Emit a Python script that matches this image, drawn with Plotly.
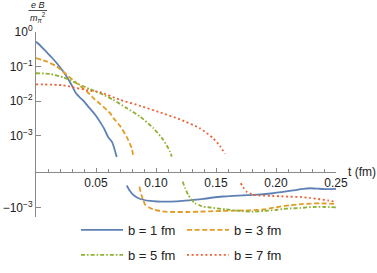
import numpy as np
import plotly.graph_objects as go

# ---------------- data (eB / m_pi^2 vs t in fm) ----------------
labels = ["b = 1 fm", "b = 3 fm", "b = 5 fm", "b = 7 fm"]

b1_t_pos = [0, 0.00333, 0.00667, 0.01, 0.01333, 0.01667, 0.02, 0.02333, 0.02667, 0.03, 0.03333,
            0.03667, 0.04, 0.04333, 0.04667, 0.05, 0.05333, 0.05667, 0.06, 0.06333, 0.0654, 0.06725]
b1_pos = [0.523, 0.414, 0.313, 0.238, 0.180, 0.133, 0.0955, 0.067, 0.0443, 0.0278, 0.01683,
          0.01262, 0.00986, 0.00707, 0.00523, 0.00375, 0.00251, 0.00163, 0.000923, 0.000661, 0.000414, 0.000243]
b1_t_neg = [0.0756, 0.0783, 0.0811, 0.085, 0.0894, 0.095, 0.1008, 0.1075, 0.1173, 0.1242, 0.1311,
            0.1392, 0.1475, 0.1558, 0.1642, 0.1725, 0.1808, 0.1892, 0.1975, 0.2058, 0.2142, 0.2225,
            0.2283, 0.235, 0.2417, 0.25]
b1_neg = [-2.29e-4, -3.30e-4, -4.31e-4, -5.27e-4, -5.94e-4, -6.44e-4, -6.67e-4, -6.76e-4, -6.58e-4,
          -6.32e-4, -6.03e-4, -5.64e-4, -5.11e-4, -4.78e-4, -4.61e-4, -4.41e-4, -4.31e-4, -4.12e-4,
          -3.85e-4, -3.49e-4, -3.20e-4, -2.89e-4, -2.76e-4, -2.84e-4, -2.93e-4, -2.89e-4]

b3_t_pos = [0, 0.0089, 0.0173, 0.0256, 0.0339, 0.0423, 0.0492, 0.0533, 0.0589, 0.0617, 0.0644,
            0.07, 0.0756, 0.0798, 0.0811]
b3_pos = [0.176, 0.1406, 0.1007, 0.0578, 0.0332, 0.019, 0.01105, 0.00835, 0.0056, 0.00449, 0.00328,
          0.00192, 0.000923, 0.000434, 0.000248]
b3_t_neg = [0.0861, 0.0881, 0.0894, 0.0908, 0.0942, 0.0978, 0.1033, 0.1089, 0.1158, 0.1256, 0.1367,
            0.145, 0.155, 0.1673, 0.1783, 0.1894, 0.1967, 0.2033, 0.2117, 0.2228, 0.2367, 0.25]
b3_neg = [-2.48e-4, -4.61e-4, -6.03e-4, -8.15e-4, -9.95e-4, -1.138e-3, -1.256e-3, -1.324e-3, -1.343e-3,
          -1.343e-3, -1.315e-3, -1.282e-3, -1.256e-3, -1.23e-3, -1.2e-3, -1.138e-3, -1.028e-3, -9.42e-4,
          -8.59e-4, -7.87e-4, -7.52e-4, -7.87e-4]

b5_t_pos = [0, 0.01167, 0.0228, 0.0339, 0.045, 0.0533, 0.0644, 0.0756, 0.0867, 0.0978, 0.1061,
            0.1117, 0.1131]
b5_pos = [0.064, 0.0611, 0.049, 0.0328, 0.022, 0.01706, 0.0109, 0.00627, 0.00358, 0.00165, 0.000755,
          0.000346, 0.000248]
b5_t_neg = [0.1222, 0.1242, 0.1269, 0.1292, 0.1325, 0.1367, 0.1394, 0.145, 0.1506, 0.1575, 0.1673,
            0.1742, 0.1811, 0.1894, 0.1992, 0.2061, 0.2117, 0.22, 0.2311, 0.2408, 0.25]
b5_neg = [-1.78e-4, -2.70e-4, -4.31e-4, -5.64e-4, -7.52e-4, -8.71e-4, -9.42e-4, -9.95e-4, -1.05e-3,
          -1.122e-3, -1.216e-3, -1.282e-3, -1.315e-3, -1.256e-3, -1.175e-3, -1.099e-3, -1.064e-3,
          -1.028e-3, -9.62e-4, -9.62e-4, -9.82e-4]

b7_t_pos = [0, 0.0225, 0.045, 0.0533, 0.07, 0.0867, 0.1033, 0.12, 0.1367, 0.1478, 0.1533, 0.1575]
b7_pos = [0.0307, 0.0287, 0.0199, 0.01824, 0.0109, 0.00731, 0.00473, 0.00297, 0.00163, 0.000836,
          0.000506, 0.000297]
b7_t_neg = [0.1706, 0.1733, 0.1758, 0.1783, 0.1811, 0.1867, 0.195, 0.2033, 0.2117, 0.22, 0.2283,
            0.2367, 0.2433, 0.25]
b7_neg = [-1.98e-4, -2.80e-4, -3.53e-4, -3.91e-4, -4.31e-4, -4.47e-4, -4.61e-4, -4.71e-4, -4.84e-4,
          -4.93e-4, -5.27e-4, -5.75e-4, -6.24e-4, -6.76e-4]

x_tick_vals = [0.05, 0.10, 0.15, 0.20, 0.25]
x_tick_text = ["0.05", "0.10", "0.15", "0.20", "0.25"]
x_minor_vals = [round(0.01 * i, 2) for i in range(1, 26)]
y_tick_vals = [1, 0.1, 0.01, 0.001, -0.001]
y_tick_text = ["10<sup>0</sup>", "10<sup>\u22121</sup>", "10<sup>\u22122</sup>",
               "10<sup>\u22123</sup>", "\u221210<sup>\u22123</sup>"]

# ---------------- symmetric log scale ----------------
OFFSET = 4.04


def symlog(vals):
    out = []
    for v in vals:
        if v is None:
            out.append(None)
        else:
            out.append(float(np.sign(v) * (np.log10(abs(v)) + OFFSET)))
    return out


series = [
    (b1_t_pos, b1_pos, b1_t_neg, b1_neg),
    (b3_t_pos, b3_pos, b3_t_neg, b3_neg),
    (b5_t_pos, b5_pos, b5_t_neg, b5_neg),
    (b7_t_pos, b7_pos, b7_t_neg, b7_neg),
]
colors = ["#5E81B5", "#E19C24", "#8FB032", "#EB6235"]
dashes = ["solid", "5px,2.6px", "4px,2px,1.6px,2px", "2px,2.6px"]
legends = ["legend", "legend2", "legend3", "legend4"]

FONT = "Liberation Sans, Arial, sans-serif"
W, H = 377, 273
L, R, T, B = 36, 41, 32, 56
Y_TOP = OFFSET
Y_BOT = -1.313

fig = go.Figure()
for (tp, vp, tn, vn), lab, c, d, lg in zip(series, labels, colors, dashes, legends):
    fig.add_trace(go.Scatter(
        x=list(tp) + [None] + list(tn),
        y=symlog(list(vp) + [None] + list(vn)),
        mode="lines", name=lab, legend=lg, connectgaps=False,
        line=dict(color=c, width=1.8, dash=d, shape="spline", smoothing=0.5),
    ))


def px_x(px):
    return (px - L) / (W - L - R)


def px_y(py):
    return (H - B - py) / (H - T - B)


# legends: each entry placed individually
leg_pos = [(76, 230), (182, 230), (76, 255), (182, 255)]
layout_legends = {}
for lg, (lx, ly) in zip(legends, leg_pos):
    layout_legends[lg] = dict(
        x=px_x(lx), y=px_y(ly), xanchor="left", yanchor="middle",
        orientation="h", itemwidth=42, bgcolor="rgba(0,0,0,0)",
        font=dict(family=FONT, size=13, color="#222222"),
    )

axis_col = "#8a8a8a"
fig.update_layout(
    width=W, height=H,
    margin=dict(l=L, r=R, t=T, b=B, pad=0, autoexpand=False),
    plot_bgcolor="white", paper_bgcolor="white",
    font=dict(family=FONT, size=12, color="#222222"),
    showlegend=True,
    xaxis=dict(
        range=[0, 0.25], anchor="free", position=(0 - Y_BOT) / (Y_TOP - Y_BOT),
        showline=True, linecolor=axis_col, linewidth=1,
        showgrid=False, zeroline=False,
        tickmode="array", tickvals=x_tick_vals, ticktext=x_tick_text,
        ticks="inside", ticklen=4, tickcolor=axis_col, tickwidth=1,
        minor=dict(tickmode="array", tickvals=x_minor_vals, ticks="inside",
                   ticklen=2.5, tickcolor=axis_col, tickwidth=1, showgrid=False),
        tickfont=dict(family=FONT, size=12, color="#222222"),
    ),
    yaxis=dict(
        range=[Y_BOT, Y_TOP],
        showline=True, linecolor=axis_col, linewidth=1,
        showgrid=False, zeroline=False,
        tickmode="array", tickvals=symlog(y_tick_vals), ticktext=y_tick_text,
        ticks="inside", ticklen=5, tickcolor=axis_col, tickwidth=1,
        tickfont=dict(family=FONT, size=12, color="#222222"),
    ),
    **layout_legends,
)

# axis labels
fig.add_annotation(x=px_x(376.5), y=px_y(172), xref="paper", yref="paper",
                   text="t (fm)", showarrow=False, xanchor="right", yanchor="middle",
                   borderpad=0, font=dict(family=FONT, size=12, color="#222222"))
fig.add_annotation(x=px_x(37.5), y=px_y(5.5), xref="paper", yref="paper",
                   text="<i>e B</i>", showarrow=False, xanchor="center", yanchor="middle",
                   borderpad=0, font=dict(family=FONT, size=9, color="#222222"))
fig.add_annotation(x=px_x(37.5), y=px_y(17.5), xref="paper", yref="paper",
                   text="<i>m<sub>\u03c0</sub></i><sup>2</sup>", showarrow=False,
                   xanchor="center", yanchor="middle",
                   borderpad=0, font=dict(family=FONT, size=9, color="#222222"))
fig.add_shape(type="line", xref="paper", yref="paper",
              x0=px_x(28.5), x1=px_x(47), y0=px_y(10.5), y1=px_y(10.5),
              line=dict(color="#222222", width=0.8))

fig.write_html("out.html", config={"displayModeBar": False},
               post_script="document.body.style.margin='0px';")
